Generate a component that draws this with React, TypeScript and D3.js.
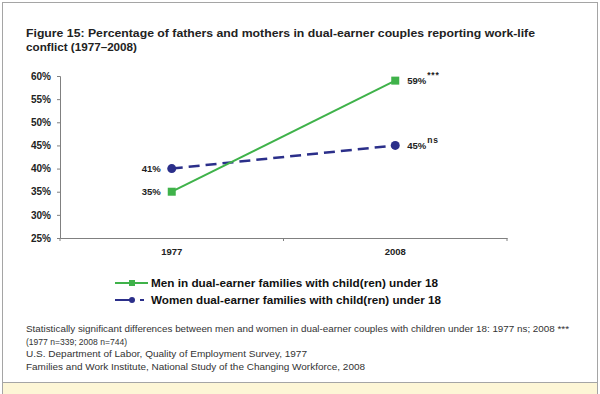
import React, { useEffect, useRef } from "react";
import * as d3 from "d3";

const years = ["1977", "2008"];
const menValues = [35, 59];
const womenValues = [40, 45];
const menLabels = ["35%", "59%"];
const womenLabels = ["41%", "45%"];
const menSig = ["", "***"];
const womenSig = ["", "ns"];
const yTicks = [25, 30, 35, 40, 45, 50, 55, 60];
const legendLabels = [
  "Men in dual-earner families with child(ren) under 18",
  "Women dual-earner families with child(ren) under 18",
];
const titleLines = [
  "Figure 15: Percentage of fathers and mothers in dual-earner couples reporting work-life",
  "conflict (1977\u20132008)",
];
const noteLines = [
  "Statistically significant differences between men and women in dual-earner couples with children under 18: 1977 ns; 2008 ***",
  "(1977 n=339; 2008 n=744)",
  "U.S. Department of Labor, Quality of Employment Survey, 1977",
  "Families and Work Institute, National Study of the Changing Workforce, 2008",
];

const GREEN = "#3fb24a";
const BLUE = "#2b2f8a";
const FONT = "'Liberation Sans', Arial, sans-serif";

const App = () => {
  const svgRef = useRef<SVGSVGElement | null>(null);

  useEffect(() => {
    const width = 600;
    const height = 394;
    const svg = d3.select(svgRef.current).attr("width", width).attr("height", height);
    svg.selectAll("*").remove();

    // frame and bottom band
    svg.append("rect").attr("x", 2.5).attr("y", 2.5).attr("width", 595).attr("height", 380)
      .attr("fill", "#fff").attr("stroke", "#a5a5a5");
    svg.append("rect").attr("x", 2.5).attr("y", 382.5).attr("width", 595).attr("height", 14)
      .attr("fill", "#fdf6d6").attr("stroke", "#a5a5a5");

    // title
    const titleW = [509, 111];
    titleLines.forEach((t, i) => {
      svg.append("text").attr("x", 26).attr("y", 37 + i * 14)
        .attr("font-family", FONT).attr("font-size", 11.5).attr("font-weight", "bold")
        .attr("fill", "#222")
        .attr("textLength", titleW[i]).attr("lengthAdjust", "spacingAndGlyphs")
        .text(t);
    });

    const x = d3.scaleBand().domain(years).range([60, 507]);
    const y = d3.scaleLinear().domain([25, 60]).range([238, 76]);
    const cx = (d: string) => (x(d) as number) + x.bandwidth() / 2;

    // y axis
    const yAxis = svg.append("g").attr("transform", "translate(60,0)")
      .call(d3.axisLeft(y).tickValues(yTicks).tickSize(3).tickFormat((d) => `${d}%`));
    yAxis.select(".domain").attr("stroke", "#808080");
    yAxis.selectAll("line").attr("stroke", "#808080");
    yAxis.selectAll("text").attr("font-family", FONT).attr("font-size", 10)
      .attr("font-weight", "bold").attr("fill", "#222").attr("x", -9);

    // x axis
    const xAxis = svg.append("g").attr("transform", "translate(0,238)")
      .call(d3.axisBottom(x).tickSize(0).tickPadding(10));
    xAxis.select(".domain").attr("stroke", "#808080");
    xAxis.selectAll("text").attr("font-family", FONT).attr("font-size", 9.5)
      .attr("font-weight", "bold").attr("fill", "#222");
    svg.append("g").selectAll("line")
      .data([60, 507, (x("2008") as number)])
      .join("line")
      .attr("x1", (d) => d).attr("x2", (d) => d).attr("y1", 238).attr("y2", 241)
      .attr("stroke", "#808080");

    const line = d3.line<number>().x((_, i) => cx(years[i])).y((d) => y(d));

    // women (dashed)
    svg.append("path").datum(womenValues).attr("d", line).attr("fill", "none")
      .attr("stroke", BLUE).attr("stroke-width", 2.5).attr("stroke-dasharray", "11,6");
    svg.selectAll(".wdot").data(womenValues).join("circle").attr("class", "wdot")
      .attr("cx", (_, i) => cx(years[i])).attr("cy", (d) => y(d)).attr("r", 4.5).attr("fill", BLUE);

    // men (solid)
    svg.append("path").datum(menValues).attr("d", line).attr("fill", "none")
      .attr("stroke", GREEN).attr("stroke-width", 2);
    svg.selectAll(".msq").data(menValues).join("rect").attr("class", "msq")
      .attr("x", (_, i) => cx(years[i]) - 4).attr("y", (d) => y(d) - 4)
      .attr("width", 8).attr("height", 8).attr("fill", GREEN);

    // value labels
    const addLabel = (vals: number[], labels: string[], sig: string[]) => {
      vals.forEach((v, i) => {
        const left = i === 0;
        const t = svg.append("text")
          .attr("x", left ? cx(years[i]) - 11 : cx(years[i]) + 12)
          .attr("y", y(v) + 3.5)
          .attr("text-anchor", left ? "end" : "start")
          .attr("font-family", FONT).attr("font-size", 9.5).attr("font-weight", "bold")
          .attr("fill", "#222")
          .text(labels[i]);
        if (sig[i]) {
          t.append("tspan").attr("dy", -6).attr("dx", 1).attr("font-size", 8.5)
            .attr("letter-spacing", 0.8).text(sig[i]);
        }
      });
    };
    addLabel(womenValues, womenLabels, womenSig);
    addLabel(menValues, menLabels, menSig);

    // legend
    const legY = [283, 300];
    const legW = [287, 290];
    const lg = svg.append("g");
    lg.append("line").attr("x1", 115).attr("x2", 148).attr("y1", legY[0]).attr("y2", legY[0])
      .attr("stroke", GREEN).attr("stroke-width", 2);
    lg.append("rect").attr("x", 129).attr("y", legY[0] - 3).attr("width", 6).attr("height", 6).attr("fill", GREEN);
    lg.append("line").attr("x1", 115).attr("x2", 132).attr("y1", legY[1]).attr("y2", legY[1])
      .attr("stroke", BLUE).attr("stroke-width", 2);
    lg.append("line").attr("x1", 140).attr("x2", 144).attr("y1", legY[1]).attr("y2", legY[1])
      .attr("stroke", BLUE).attr("stroke-width", 2);
    lg.append("circle").attr("cx", 132).attr("cy", legY[1]).attr("r", 3).attr("fill", BLUE);
    legendLabels.forEach((t, i) => {
      lg.append("text").attr("x", 151).attr("y", legY[i] + 4)
        .attr("font-family", FONT).attr("font-size", 11).attr("font-weight", "bold")
        .attr("fill", "#111")
        .attr("textLength", legW[i]).attr("lengthAdjust", "spacingAndGlyphs")
        .text(t);
    });

    // notes
    const noteW = [543, 101, 281, 339];
    noteLines.forEach((t, i) => {
      svg.append("text").attr("x", 26).attr("y", 332 + i * 12.6)
        .attr("font-family", FONT).attr("font-size", 9.5).attr("fill", "#333")
        .attr("textLength", noteW[i]).attr("lengthAdjust", "spacingAndGlyphs")
        .text(t);
    });
  }, []);

  return (
    <div style={{ position: "absolute", left: 0, top: 0 }}>
      <svg ref={svgRef}></svg>
    </div>
  );
};

export default App;
